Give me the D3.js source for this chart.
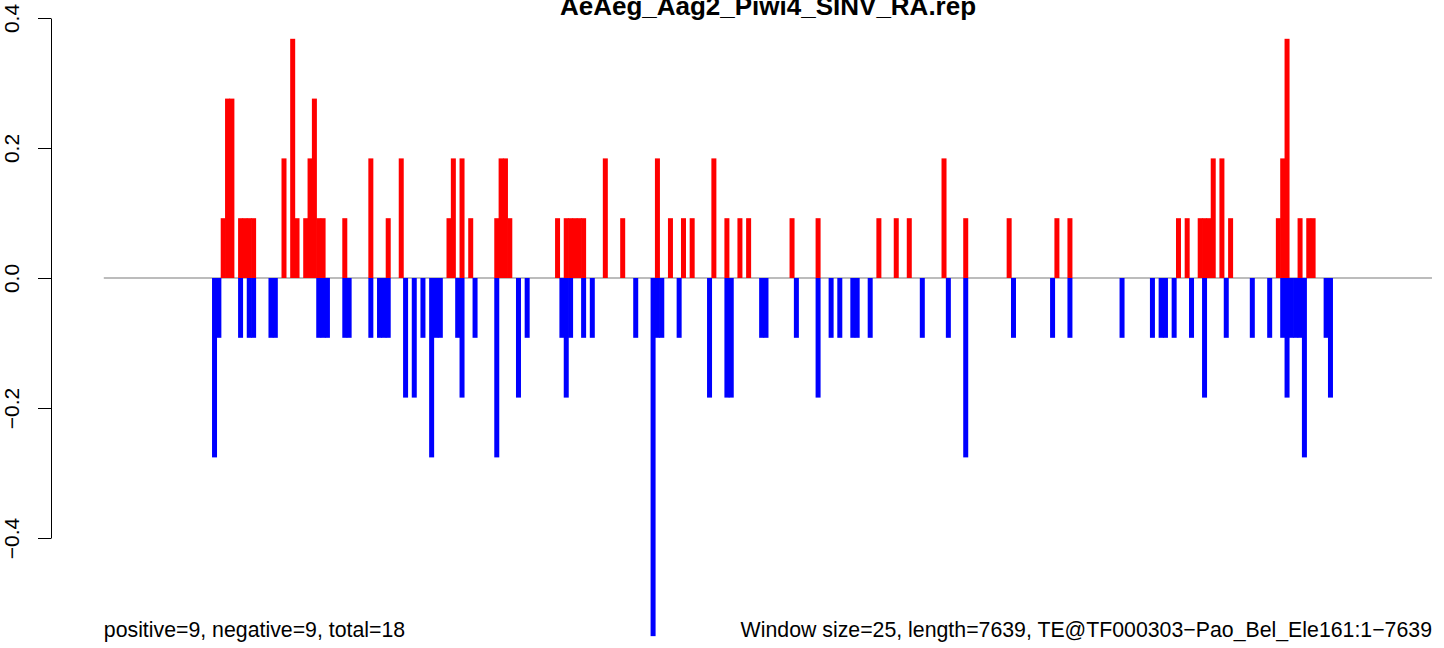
<!DOCTYPE html>
<html>
<head>
<meta charset="utf-8">
<script src="https://cdn.jsdelivr.net/npm/d3@7"></script>
<style>
  html, body { margin: 0; padding: 0; background: #ffffff; }
  svg { display: block; font-family: "Liberation Sans", Arial, Helvetica, sans-serif; }
</style>
</head>
<body>
<svg id="chart" width="1444" height="648"></svg>
<script>
// ---- data ----
const titleText = "AeAeg_Aag2_Piwi4_SINV_RA.rep";
const windowSize = 25;
const seqLength = 7639;
const leftNote = "positive=9, negative=9, total=18";
const rightNote = "Window size=25, length=7639, TE@TF000303\u2212Pao_Bel_Ele161:1\u22127639";
const yTicks = [-0.4, -0.2, 0.0, 0.2, 0.4];

// window index (0-based, 25 bp windows) and value for sense (red) reads
const posWindows = [27,28,29,31,32,33,34,41,43,44,46,47,48,49,50,55,61,65,68,79,80,82,84,90,91,92,93,
  104,106,107,108,109,110,115,119,127,130,133,135,140,143,146,148,158,164,178,182,185,193,198,208,219,222,
  247,249,252,253,254,255,257,259,270,271,272,275,277,278];
const posValues = [0.092,0.276,0.276,0.092,0.092,0.092,0.092,0.184,0.368,0.092,0.092,0.184,0.276,0.092,0.092,0.092,0.184,0.092,0.184,0.092,0.184,0.184,0.092,0.092,0.184,0.184,0.092,
  0.092,0.092,0.092,0.092,0.092,0.092,0.184,0.092,0.184,0.092,0.092,0.092,0.184,0.092,0.092,0.092,0.092,0.092,0.092,0.092,0.092,0.184,0.092,0.092,0.092,0.092,
  0.092,0.092,0.092,0.092,0.092,0.184,0.184,0.092,0.092,0.184,0.368,0.092,0.092,0.092];

// window index and value for antisense (blue) reads
const negWindows = [25,26,31,33,34,38,39,49,50,51,55,56,61,63,64,65,69,71,73,75,76,77,81,82,85,90,95,97,
  105,106,107,110,112,122,126,127,128,132,139,143,144,151,152,159,164,167,169,172,173,176,188,194,198,
  209,218,222,234,241,243,244,246,250,253,258,264,268,271,272,273,274,275,276,281,282];
const negValues = [-0.276,-0.092,-0.092,-0.092,-0.092,-0.092,-0.092,-0.092,-0.092,-0.092,-0.092,-0.092,-0.092,-0.092,-0.092,-0.092,-0.184,-0.184,-0.092,-0.276,-0.092,-0.092,-0.092,-0.184,-0.092,-0.276,-0.184,-0.092,
  -0.092,-0.184,-0.092,-0.092,-0.092,-0.092,-0.551,-0.092,-0.092,-0.092,-0.184,-0.184,-0.184,-0.092,-0.092,-0.092,-0.184,-0.092,-0.092,-0.092,-0.092,-0.092,-0.092,-0.092,-0.276,
  -0.092,-0.092,-0.092,-0.092,-0.092,-0.092,-0.092,-0.092,-0.092,-0.184,-0.092,-0.092,-0.092,-0.092,-0.184,-0.092,-0.092,-0.092,-0.276,-0.092,-0.184];

// ---- build ----
const pos = posWindows.map((w, i) => ({ w, v: posValues[i] }));
const neg = negWindows.map((w, i) => ({ w, v: negValues[i] }));

const svg = d3.select("#chart");
const x = d3.scaleLinear().domain([0, seqLength]).range([103.8, 1430.6]);
const y = d3.scaleLinear().domain([-0.4, 0.4]).range([538, 18]);
const barW = 5;
const cx = w => x(w * windowSize + windowSize / 2);

// zero line
svg.append("line")
  .attr("x1", x(0)).attr("x2", x(seqLength + 8))
  .attr("y1", y(0)).attr("y2", y(0))
  .attr("stroke", "#7a7a7a").attr("stroke-width", 1.2);

// bars
svg.append("g").selectAll("rect").data(pos).join("rect")
  .attr("x", d => cx(d.w) - barW / 2)
  .attr("width", barW)
  .attr("y", d => y(d.v))
  .attr("height", d => y(0) - y(d.v))
  .attr("fill", "#ff0000");

svg.append("g").selectAll("rect").data(neg).join("rect")
  .attr("x", d => cx(d.w) - barW / 2)
  .attr("width", barW)
  .attr("y", y(0))
  .attr("height", d => y(d.v) - y(0))
  .attr("fill", "#0000ff");

// y axis
const fmt = v => (v < 0 ? "\u2212" : "") + Math.abs(v).toFixed(1);
const axis = svg.append("g").attr("transform", "translate(51,0)")
  .call(d3.axisLeft(y).tickValues(yTicks).tickSize(13).tickSizeOuter(0).tickFormat(fmt));
axis.select(".domain").attr("stroke", "#000").attr("stroke-width", 1);
axis.selectAll(".tick line").attr("stroke", "#000").attr("stroke-width", 1);
axis.selectAll(".tick text")
  .attr("x", null).attr("dy", null)
  .attr("transform", "translate(-32,0) rotate(-90)")
  .attr("text-anchor", "middle")
  .attr("fill", "#000")
  .style("font-size", "21px")
  .style("font-family", "\"Liberation Sans\", Arial, Helvetica, sans-serif");

// title (the reference shows it clipped at the top edge)
svg.append("text")
  .attr("x", 768).attr("y", 15)
  .attr("text-anchor", "middle")
  .style("font-size", "26px").style("font-weight", "bold")
  .text(titleText);

// notes
svg.append("text")
  .attr("x", x(0)).attr("y", 637)
  .attr("text-anchor", "start")
  .style("font-size", "21.3px")
  .text(leftNote);

svg.append("text")
  .attr("x", 1432).attr("y", 637)
  .attr("text-anchor", "end")
  .style("font-size", "21.3px")
  .text(rightNote);
</script>
</body>
</html>
